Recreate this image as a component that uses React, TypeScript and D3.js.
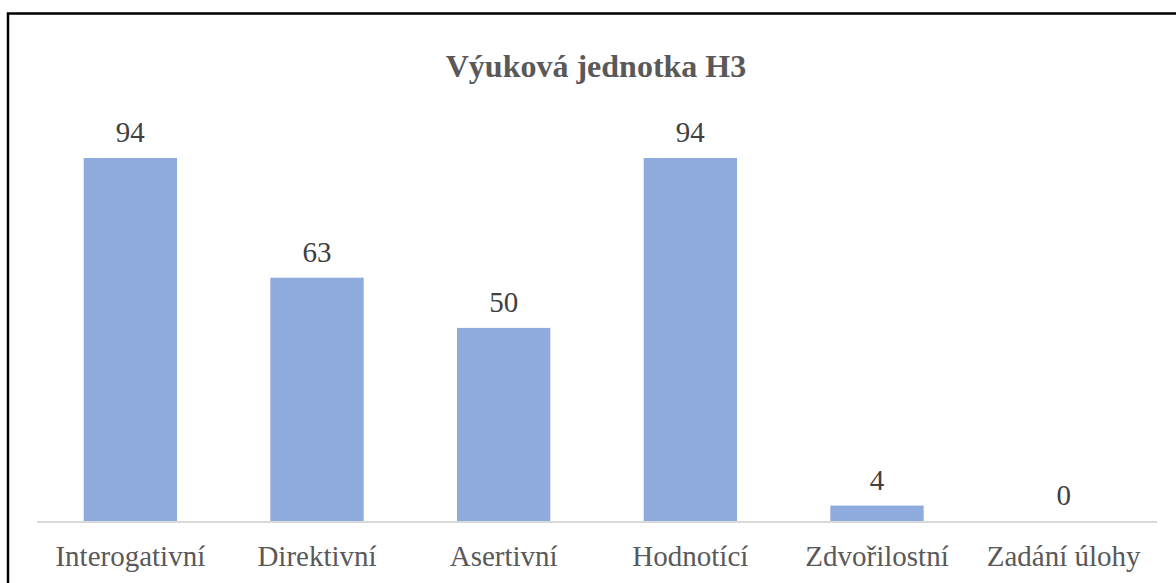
import React from "react";
import * as d3 from "d3";

const width = 1176;
const height = 583;

const title = "Výuková jednotka H3";
const categories = ["Interogativní", "Direktivní", "Asertivní", "Hodnotící", "Zdvořilostní", "Zadání úlohy"];
const counts = [94, 63, 50, 94, 4, 0];

const font = "'Liberation Serif', 'Times New Roman', serif";

function App() {
    const x = d3.scaleBand().domain(categories).range([37, 1157]).paddingInner(0.5).paddingOuter(0.25);
    const y = d3.scaleLinear().domain([0, 100]).range([521, 134.8]);

    return (
        <svg width={width} height={height} style={{position: "absolute", left: 0, top: 0, background: "#fff"}}>
            <rect x={8} y={13.5} width={1200} height={620} fill="#fff" stroke="#000" strokeWidth={2.5}/>
            <text x={596} y={77} textAnchor="middle" fontFamily={font} fontWeight="bold" fontSize={32}
                  fill="#595959">{title}</text>
            {categories.map((c, i) => (
                <g key={c}>
                    <rect x={x(c)} y={y(counts[i])} width={x.bandwidth()} height={y(0) - y(counts[i])} fill="#8FAADC"/>
                    <text x={x(c)! + x.bandwidth() / 2} y={y(counts[i]) - 16} textAnchor="middle"
                          fontFamily={font} fontSize={29} fill="#404040">{counts[i]}</text>
                    <text x={x(c)! + x.bandwidth() / 2} y={566} textAnchor="middle"
                          fontFamily={font} fontSize={29} fill="#595959">{c}</text>
                </g>
            ))}
            <line x1={37} x2={1157} y1={y(0) + 1} y2={y(0) + 1} stroke="#D9D9D9" strokeWidth={2}/>
        </svg>
    );
}

export default App;
